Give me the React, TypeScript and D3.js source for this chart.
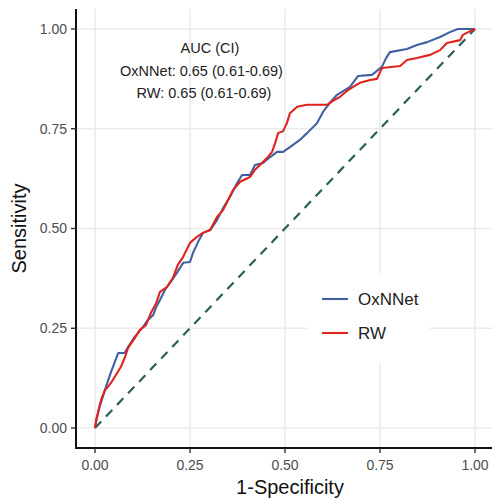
import React from "react";
import * as d3 from "d3";

const oxFpr = [0, 0.005, 0.012, 0.026, 0.042, 0.061, 0.078, 0.087, 0.104, 0.126, 0.139, 0.153, 0.161, 0.171, 0.184, 0.197, 0.215, 0.232, 0.25, 0.258, 0.271, 0.284, 0.303, 0.321, 0.337, 0.355, 0.374, 0.387, 0.408, 0.421, 0.442, 0.461, 0.479, 0.495, 0.513, 0.539, 0.558, 0.584, 0.6, 0.618, 0.637, 0.671, 0.692, 0.729, 0.755, 0.766, 0.776, 0.821, 0.847, 0.874, 0.908, 0.934, 0.955, 1];
const oxTpr = [0, 0.025, 0.053, 0.095, 0.14, 0.188, 0.188, 0.203, 0.228, 0.253, 0.271, 0.283, 0.303, 0.321, 0.346, 0.363, 0.388, 0.414, 0.416, 0.439, 0.466, 0.489, 0.496, 0.521, 0.551, 0.579, 0.614, 0.634, 0.634, 0.659, 0.664, 0.679, 0.692, 0.692, 0.704, 0.722, 0.739, 0.764, 0.792, 0.815, 0.835, 0.855, 0.882, 0.885, 0.905, 0.927, 0.942, 0.95, 0.96, 0.967, 0.98, 0.992, 1, 1];

const rwFpr = [0, 0.003, 0.016, 0.026, 0.034, 0.042, 0.055, 0.068, 0.079, 0.087, 0.105, 0.118, 0.134, 0.147, 0.161, 0.171, 0.189, 0.205, 0.218, 0.232, 0.25, 0.268, 0.284, 0.303, 0.321, 0.337, 0.363, 0.382, 0.408, 0.421, 0.434, 0.453, 0.466, 0.474, 0.482, 0.495, 0.505, 0.513, 0.532, 0.558, 0.611, 0.626, 0.645, 0.666, 0.679, 0.697, 0.724, 0.742, 0.755, 0.803, 0.821, 0.847, 0.882, 0.908, 0.926, 0.961, 0.968, 0.982, 1];
const rwTpr = [0, 0.02, 0.07, 0.095, 0.103, 0.113, 0.133, 0.153, 0.178, 0.201, 0.226, 0.246, 0.258, 0.288, 0.313, 0.341, 0.353, 0.376, 0.409, 0.429, 0.464, 0.479, 0.489, 0.496, 0.529, 0.546, 0.596, 0.617, 0.629, 0.647, 0.659, 0.677, 0.692, 0.714, 0.739, 0.744, 0.764, 0.789, 0.805, 0.81, 0.81, 0.82, 0.83, 0.847, 0.855, 0.865, 0.872, 0.875, 0.902, 0.907, 0.922, 0.927, 0.935, 0.947, 0.965, 0.972, 0.985, 0.992, 1];

const ticks = [0, 0.25, 0.5, 0.75, 1];
const tickLabels = ["0.00", "0.25", "0.50", "0.75", "1.00"];
const seriesNames = ["OxNNet", "RW"];
const seriesColors = ["#3f61a3", "#e0231c"];
const annotationLines = ["AUC (CI)", "OxNNet: 0.65 (0.61-0.69)", "RW: 0.65 (0.61-0.69)"];

const W = 492;
const H = 498;
const FONT = "'Liberation Sans', Arial, Helvetica, sans-serif";

export default function App() {
  const x = d3.scaleLinear().domain([-0.05, 1.05]).range([76, 494]);
  const y = d3.scaleLinear().domain([-0.05, 1.05]).range([448, 9]);
  const line = d3
    .line<[number, number]>()
    .x((d) => x(d[0]))
    .y((d) => y(d[1]));
  const ox: [number, number][] = oxFpr.map((f, i) => [f, oxTpr[i]]);
  const rw: [number, number][] = rwFpr.map((f, i) => [f, rwTpr[i]]);
  const series = [ox, rw];
  const left = x(-0.05);
  const bottom = y(-0.05);

  return (
    <svg
      width={W}
      height={H}
      style={{ position: "absolute", left: 0, top: 0, background: "#fff" }}
      fontFamily={FONT}
    >
      <rect x={0} y={0} width={W} height={H} fill="#fff" />
      {ticks.map((t, i) => (
        <g key={"g" + i}>
          <line x1={x(t)} x2={x(t)} y1={y(1.05)} y2={bottom} stroke="#ebebeb" strokeWidth={1.6} />
          <line x1={left} x2={W} y1={y(t)} y2={y(t)} stroke="#ebebeb" strokeWidth={1.6} />
        </g>
      ))}
      <line
        x1={x(0)}
        y1={y(0)}
        x2={x(1)}
        y2={y(1)}
        stroke="#2b5e58"
        strokeWidth={2.2}
        strokeDasharray="9,7"
      />
      {series.map((s, i) => (
        <path key={"s" + i} d={line(s) || ""} fill="none" stroke={seriesColors[i]} strokeWidth={2.1} strokeLinejoin="round" />
      ))}
      {/* axes */}
      <line x1={left} x2={left} y1={y(1.05)} y2={bottom + 1} stroke="#111" strokeWidth={2} />
      <line x1={left - 1} x2={W} y1={bottom} y2={bottom} stroke="#111" strokeWidth={2} />
      {ticks.map((t, i) => (
        <g key={"t" + i}>
          <line x1={left - 5} x2={left} y1={y(t)} y2={y(t)} stroke="#333" strokeWidth={1.4} />
          <text x={left - 9} y={y(t)} dy="0.35em" textAnchor="end" fontSize={14} fill="#4d4d4d">
            {tickLabels[i]}
          </text>
          <line x1={x(t)} x2={x(t)} y1={bottom} y2={bottom + 5} stroke="#333" strokeWidth={1.4} />
          <text x={x(t)} y={bottom + 22} textAnchor="middle" fontSize={14} fill="#4d4d4d">
            {tickLabels[i]}
          </text>
        </g>
      ))}
      <text x={290} y={494} textAnchor="middle" fontSize={20} fill="#111">
        1-Specificity
      </text>
      <text
        transform={`translate(26,${y(0.5)}) rotate(-90)`}
        textAnchor="middle"
        fontSize={20}
        fill="#111"
      >
        Sensitivity
      </text>
      {/* annotation */}
      {annotationLines.map((l, i) => (
        <text key={"a" + i} x={[210, 201.5, 204][i]} y={53 + i * 22.5} textAnchor="middle" fontSize={14.5} fill="#222">
          {l}
        </text>
      ))}
      {/* legend */}
      <rect x={307} y={273} width={123} height={90} fill="#fff" />
      {seriesNames.map((n, i) => (
        <g key={"l" + i}>
          <line x1={322} x2={348} y1={299 + i * 34} y2={299 + i * 34} stroke={seriesColors[i]} strokeWidth={2.1} />
          <text x={358} y={299 + i * 34} dy="0.36em" fontSize={17} fill="#222">
            {n}
          </text>
        </g>
      ))}
    </svg>
  );
}
